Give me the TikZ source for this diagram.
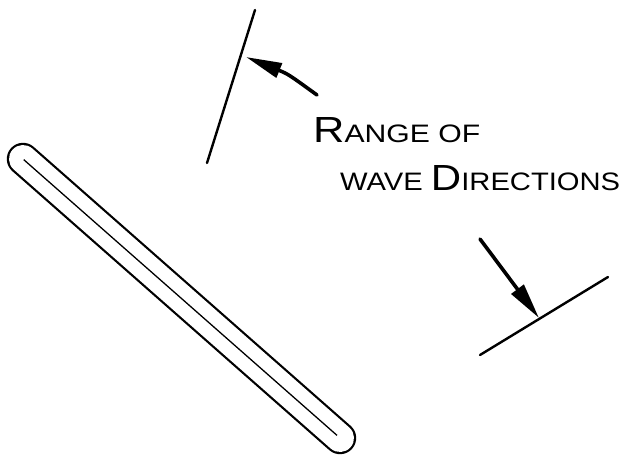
\documentclass[tikz,border=0pt]{standalone}
\usepackage{fontspec}
\setmainfont{Liberation Sans}
\usepackage{graphicx}
\usetikzlibrary{arrows.meta}

\begin{document}
\begin{tikzpicture}[x=1pt,y=-1pt,every edge/.style = {draw=black,line width=2.4pt,line cap=round},wavearrow/.style = {line width=3.6pt,line cap=round,-{Triangle[length=36pt,width=15pt]}},lbl/.style = {inner sep=0pt,anchor=base west}]
\useasboundingbox (0,0) rectangle (633,464);
% breakwater
\coordinate (b1) at (23,159);
\coordinate (b2) at (340,438);
\draw[line width=2.2pt,double distance=28pt,line cap=round] (b1) -- (b2);
\draw[line width=1.3pt,shorten <=1pt,shorten >=4pt] (b1) -- (b2);
% limits of the wave directions
\coordinate (r1) at (255,10);
\coordinate (r2) at (207,163);
\coordinate (r3) at (608,277);
\coordinate (r4) at (480,355);
\foreach \from/\to in {r1/r2,r3/r4}
\draw (\from) edge (\to);
% arrows
\coordinate (t1) at (317,95);
\coordinate (h1) at (246,57);
\coordinate (t2) at (480,239);
\coordinate (h2) at (539,318);
\draw[wavearrow] (t1) .. controls (288,74) .. (h1);
\draw[wavearrow] (t2) -- (h2);
% label
\node (range) [lbl] at (313,142) {\resizebox{167pt}{25pt}{{\Huge R}{\LARGE ANGE OF}}};
\node (wave) [lbl] at (340,190) {\resizebox{280pt}{25pt}{{\LARGE WAVE }{\Huge D}{\LARGE IRECTIONS}}};
\end{tikzpicture}
\end{document}
